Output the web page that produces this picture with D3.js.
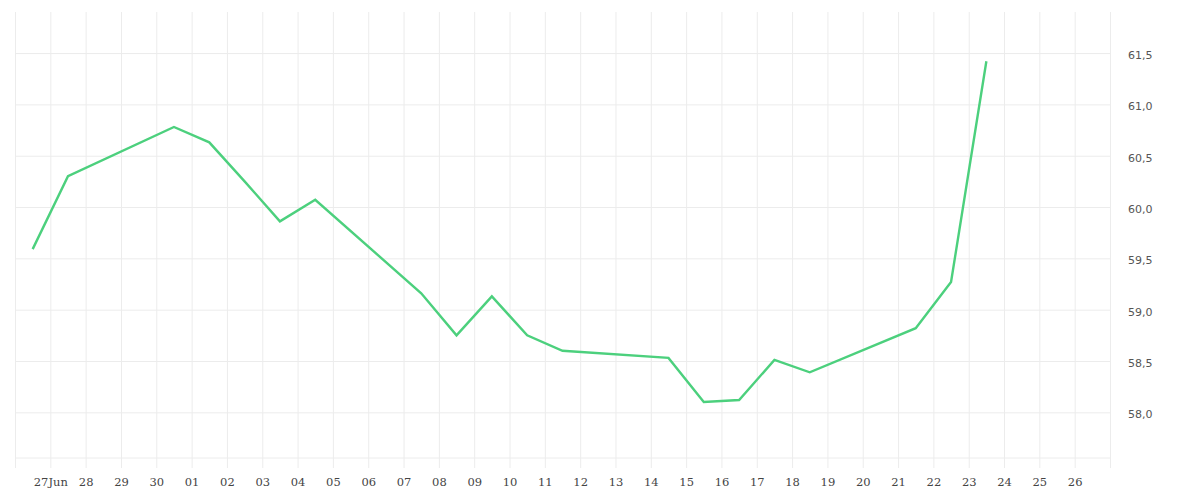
<!DOCTYPE html>
<html>
<head>
<meta charset="utf-8">
<script src="https://cdn.jsdelivr.net/npm/d3@7"></script>
<style>
  html, body { margin: 0; padding: 0; background: #fff; }
  svg { display: block; }
</style>
</head>
<body>
<svg id="chart" width="1200" height="500"></svg>
<script>
// ---- data ----
const dates = ["2025-06-26","2025-06-27","2025-06-30","2025-07-01","2025-07-02","2025-07-03","2025-07-04",
  "2025-07-07","2025-07-08","2025-07-09","2025-07-10","2025-07-11","2025-07-14","2025-07-15","2025-07-16",
  "2025-07-17","2025-07-18","2025-07-21","2025-07-22","2025-07-23"];
const values = [59.59, 60.30, 60.78, 60.63, 60.25, 59.86, 60.07,
  59.16, 58.75, 59.13, 58.75, 58.60, 58.53, 58.10, 58.12,
  58.51, 58.39, 58.82, 59.27, 61.42];
const yTicks = [58.0, 58.5, 59.0, 59.5, 60.0, 60.5, 61.0, 61.5];
const xStart = "2025-06-26", xEnd = "2025-07-27";

// ---- setup ----
const svg = d3.select("#chart");
const mLeft = 15, mRight = 1110, mTop = 12, mBottom = 458;
const parse = d3.utcParse("%Y-%m-%d");
const x = d3.scaleUtc().domain([parse(xStart), parse(xEnd)]).range([mLeft, mRight]);
const y = d3.scaleLinear().domain([57.555, 61.90]).range([mBottom, mTop]);
const gridColor = "#ececec";
const loc = d3.formatLocale({decimal: ",", thousands: ".", grouping: [3], currency: ["", "€"]});
const yFmt = loc.format(".1f");

const pts = dates.map((d, i) => ({t: d3.utcHour.offset(parse(d), 12), v: values[i]}));

// vertical grid lines (with tick extension below bottom)
const allDays = d3.utcDay.range(parse(xStart), d3.utcDay.offset(parse(xEnd), 1));
const gx = svg.append("g").attr("transform", `translate(0,${mBottom + 10})`)
  .call(d3.axisBottom(x).tickValues(allDays).tickSize(-(mBottom + 10 - mTop)).tickFormat(""));
gx.select(".domain").remove();
gx.selectAll("line").attr("stroke", gridColor);

// horizontal grid lines
const gy = svg.append("g").attr("transform", `translate(${mRight},0)`)
  .call(d3.axisRight(y).tickValues(yTicks).tickSize(-(mRight - mLeft)).tickPadding(18).tickFormat(yFmt));
gy.select(".domain").remove();
gy.selectAll("line").attr("stroke", gridColor);
gy.selectAll("text").attr("fill", "#555").attr("font-family", "'DejaVu Sans', sans-serif")
  .attr("font-size", 11).attr("dy", "0.5em");

// bottom line
svg.append("line").attr("x1", mLeft).attr("x2", mRight).attr("y1", mBottom).attr("y2", mBottom)
  .attr("stroke", gridColor);

// x labels
const labelDays = d3.utcDay.range(d3.utcDay.offset(parse(xStart), 1), parse(xEnd));
const lx = svg.append("g").attr("transform", `translate(0,${mBottom})`)
  .call(d3.axisBottom(x).tickValues(labelDays).tickSize(0).tickPadding(20)
    .tickFormat((d, i) => i === 0 ? d3.utcFormat("%d%b")(d) : d3.utcFormat("%d")(d)));
lx.select(".domain").remove();
lx.selectAll("text").attr("fill", "#444").attr("font-family", "'DejaVu Serif', serif")
  .attr("font-size", 11.5);

// line
svg.append("path").datum(pts)
  .attr("fill", "none").attr("stroke", "#4cd07d").attr("stroke-width", 2.4)
  .attr("stroke-linejoin", "miter")
  .attr("d", d3.line().x(d => x(d.t)).y(d => y(d.v)));
</script>
</body>
</html>
